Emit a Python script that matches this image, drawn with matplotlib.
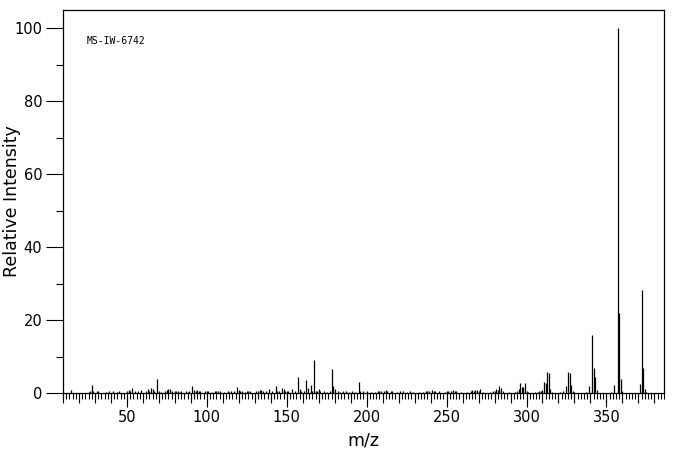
import numpy as np
import matplotlib
matplotlib.use("Agg")
import matplotlib.pyplot as plt
from matplotlib.ticker import MultipleLocator, NullFormatter

# peak list (m/z, relative intensity)
mz = [15, 26, 27, 28, 29, 31, 32, 37, 39, 41, 44, 45, 50, 51, 52, 53, 55, 57, 59,
      62, 63, 64, 65, 66, 67, 69, 70, 71, 74, 75, 76, 77, 78, 80, 81, 82, 83, 84,
      87, 88, 89, 91, 92, 93, 94, 95, 96, 99, 100, 101, 103, 105, 106, 107, 108,
      111, 113, 114, 115, 117, 119, 120, 121, 122, 124, 125, 126, 127, 131, 132,
      133, 134, 135, 137, 139, 141, 143, 144, 145, 147, 148, 149, 150, 151, 153,
      155, 157, 158, 159, 161, 162, 163, 165, 166, 167, 168, 169, 170, 171, 173,
      175, 177, 178, 179, 180, 182, 183, 185, 187, 189, 191, 193, 195, 196, 198,
      200, 203, 205, 207, 208, 209, 211, 212, 213, 215, 216, 219, 221, 223, 225,
      227, 229, 233, 235, 237, 238, 239, 241, 242, 243, 245, 249, 250, 251, 253,
      254, 255, 256, 259, 263, 265, 266, 267, 268, 269, 270, 271, 273, 277, 279,
      280, 281, 282, 283, 284, 285, 289, 293, 294, 295, 296, 297, 298, 299, 300,
      301, 305, 307, 308, 309, 310, 311, 312, 313, 314, 315, 316, 321, 323, 325,
      326, 327, 328, 329, 330, 337, 339, 341, 342, 343, 344, 353, 355, 357, 358,
      359, 360, 371, 372, 373, 374, 375]
intensity = [0.8, 0.4, 0.6, 2.2, 0.5, 0.6, 0.5, 0.4, 0.5, 0.5, 0.4, 0.5, 0.6, 0.8,
             0.5, 1.4, 0.6, 0.5, 0.8, 0.6, 1.0, 0.5, 1.4, 1.2, 0.5, 3.8, 0.6, 0.4,
             0.5, 0.8, 1.2, 1.2, 0.5, 0.6, 0.5, 0.5, 0.4, 0.5, 0.5, 0.4, 0.5, 2.0,
             0.8, 0.5, 0.8, 0.5, 0.5, 0.5, 0.6, 0.5, 0.4, 0.5, 0.5, 0.6, 0.5, 0.4,
             0.5, 0.4, 0.6, 0.5, 1.6, 0.8, 0.6, 0.6, 0.4, 0.5, 0.5, 0.6, 0.5, 0.6,
             0.8, 0.8, 0.6, 0.5, 1.2, 0.5, 1.9, 0.5, 0.6, 1.4, 1.2, 0.5, 0.6, 0.5,
             1.1, 0.5, 4.4, 1.0, 0.5, 0.6, 3.6, 1.5, 2.2, 0.5, 9.0, 0.6, 0.5, 1.0,
             0.5, 0.6, 0.4, 0.5, 6.6, 2.0, 1.0, 0.5, 0.4, 0.5, 0.5, 0.4, 0.5, 0.4,
             3.0, 0.5, 0.5, 0.5, 0.4, 0.4, 0.5, 0.5, 0.6, 0.5, 0.8, 0.5, 0.6, 0.5,
             0.4, 0.5, 0.5, 0.4, 0.5, 0.4, 0.4, 0.4, 0.5, 0.6, 0.5, 0.8, 0.5, 0.6,
             0.5, 0.4, 0.5, 0.6, 0.5, 0.8, 0.6, 0.5, 0.4, 0.4, 0.6, 0.8, 0.5, 0.8,
             0.8, 0.6, 1.1, 0.4, 0.4, 0.5, 0.6, 1.2, 0.8, 1.9, 1.4, 0.6, 0.4, 0.4,
             0.6, 1.1, 2.7, 1.6, 1.6, 2.7, 0.6, 0.4, 0.4, 0.4, 0.5, 0.5, 0.8, 3.0,
             2.8, 5.7, 5.4, 1.2, 0.4, 0.3, 0.5, 2.0, 5.8, 5.6, 2.2, 0.6, 0.4, 0.4,
             1.9, 15.9, 6.8, 4.4, 0.8, 0.3, 2.2, 100.0, 22.0, 3.8, 0.5, 2.5, 28.2,
             6.8, 1.1, 0.3]

label = "MS-IW-6742"

fig = plt.figure(figsize=(6.76, 4.55), dpi=100)
ax = fig.add_axes([0.0932, 0.1363, 0.8890, 0.8417])

ax.vlines(mz, 0, intensity, colors="black", linewidth=0.9)

ax.set_xlim(10, 386)
ax.set_ylim(0, 105)

# x ticks: long every 50, short every 2, medium every 10 on a second axis
ax.xaxis.set_major_locator(MultipleLocator(50))
ax.xaxis.set_minor_locator(MultipleLocator(2))
ax.tick_params(axis="x", which="major", direction="out", length=10, width=0.8,
               labelsize=10.5, pad=2)
ax.tick_params(axis="x", which="minor", direction="out", length=4, width=0.8)
sec = ax.secondary_xaxis("bottom")
sec.xaxis.set_major_locator(MultipleLocator(10))
sec.xaxis.set_major_formatter(NullFormatter())
sec.tick_params(axis="x", direction="out", length=7, width=0.8)
sec.spines["bottom"].set_visible(False)

ax.yaxis.set_major_locator(MultipleLocator(20))
ax.yaxis.set_minor_locator(MultipleLocator(10))
ax.tick_params(axis="y", which="major", direction="out", length=12, width=0.8,
               labelsize=10.5, pad=3)
ax.tick_params(axis="y", which="minor", direction="out", length=5, width=0.8)

for s in ax.spines.values():
    s.set_linewidth(0.9)

ax.set_xlabel("m/z", fontsize=12.5)
ax.set_ylabel("Relative Intensity", fontsize=12.5)
ax.xaxis.set_label_coords(0.5, -0.123)
ax.yaxis.set_label_coords(-0.085, 0.5)
ax.xaxis.label.set_va("center")
ax.yaxis.label.set_va("center")

ax.text(0.04, 0.92, label, transform=ax.transAxes, fontsize=7,
        family="DejaVu Sans Mono", va="center", ha="left")

fig.savefig("out.png", dpi=100)
